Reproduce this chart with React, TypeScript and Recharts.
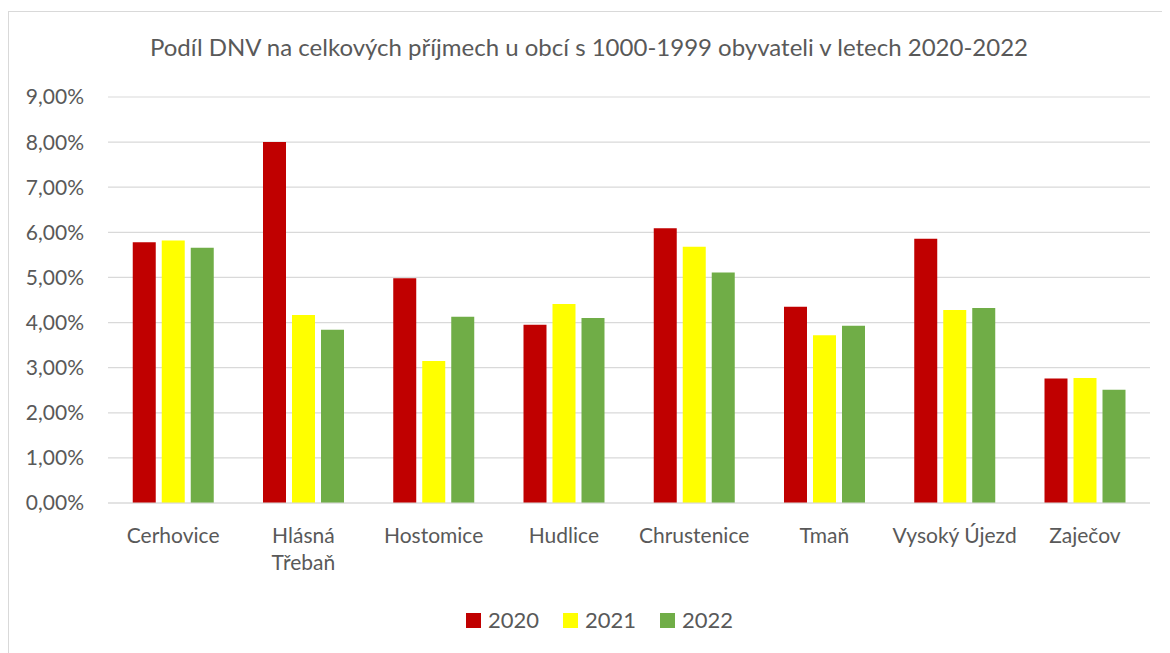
import React from "react";
import { BarChart, Bar, XAxis, YAxis, CartesianGrid, Legend } from "recharts";

const categories = ["Cerhovice", "Hlásná Třebaň", "Hostomice", "Hudlice", "Chrustenice", "Tmaň", "Vysoký Újezd", "Zaječov"];
const tickLabels = [["Cerhovice"], ["Hlásná", "Třebaň"], ["Hostomice"], ["Hudlice"], ["Chrustenice"], ["Tmaň"], ["Vysoký Újezd"], ["Zaječov"]];
const values2020 = [5.78, 8.0, 4.98, 3.95, 6.09, 4.35, 5.86, 2.76];
const values2021 = [5.82, 4.17, 3.15, 4.41, 5.68, 3.72, 4.28, 2.77];
const values2022 = [5.66, 3.84, 4.13, 4.1, 5.11, 3.93, 4.32, 2.51];
const yTicks = [0, 1, 2, 3, 4, 5, 6, 7, 8, 9];
const series = [
  { key: "y2020", name: "2020", color: "#C00000" },
  { key: "y2021", name: "2021", color: "#FFFF00" },
  { key: "y2022", name: "2022", color: "#70AD47" },
];

const data = categories.map((c, i) => ({
  name: c,
  y2020: values2020[i],
  y2021: values2021[i],
  y2022: values2022[i],
}));

const FONT = "Lato, 'Open Sans', sans-serif";
const TEXT = "#595959";

const fmt = (v: number) => v.toFixed(2).replace(".", ",") + "%";

function XTick(props: any) {
  const { x, y, index } = props;
  const lines = tickLabels[index] || [String(props.payload.value)];
  return (
    <text x={x} y={y} textAnchor="middle" fill={TEXT} fontSize={21} fontFamily={FONT}>
      {lines.map((l: string, i: number) => (
        <tspan key={i} x={x} dy={i === 0 ? 32 : 27}>{l}</tspan>
      ))}
    </text>
  );
}

function LegendContent() {
  return (
    <div style={{ display: "flex", justifyContent: "center", gap: 24, fontFamily: FONT, fontSize: 22, color: TEXT, lineHeight: "24px", marginLeft: 40 }}>
      {series.map((s) => (
        <div key={s.key} style={{ display: "flex", alignItems: "center" }}>
          <span style={{ width: 15, height: 15, background: s.color, display: "inline-block", marginRight: 7 }} />
          {s.name}
        </div>
      ))}
    </div>
  );
}

export default function App() {
  return (
    <div style={{ marginTop: 3, width: 1160, height: 660, border: "1px solid #D9D9D9", background: "#fff", position: "relative" }}>
      <div style={{ position: "absolute", top: 20, left: 0, width: 1160, textAlign: "center", fontFamily: FONT, fontSize: 24, color: TEXT }}>
        Podíl DNV na celkových příjmech u obcí s 1000-1999 obyvateli v letech 2020-2022
      </div>
      <BarChart width={1160} height={640} data={data} margin={{ top: 85, right: 19, left: 0, bottom: 0 }} barCategoryGap="19%" barGap={6}>
        <CartesianGrid vertical={false} stroke="#D9D9D9" strokeWidth={1.2} />
        <XAxis dataKey="name" tick={<XTick />} tickLine={false} axisLine={{ stroke: "#D9D9D9", strokeWidth: 1.2 }} height={125} interval={0} />
        <YAxis domain={[0, 9]} ticks={yTicks} tickFormatter={fmt} width={99} tickLine={false} axisLine={false} tickMargin={18}
          tick={{ fill: TEXT, fontSize: 21, fontFamily: FONT }} />
        <Legend content={<LegendContent />} verticalAlign="bottom" wrapperStyle={{ bottom: 20 }} />
        {series.map((s) => (
          <Bar key={s.key} dataKey={s.key} name={s.name} fill={s.color} isAnimationActive={false} />
        ))}
      </BarChart>
    </div>
  );
}
